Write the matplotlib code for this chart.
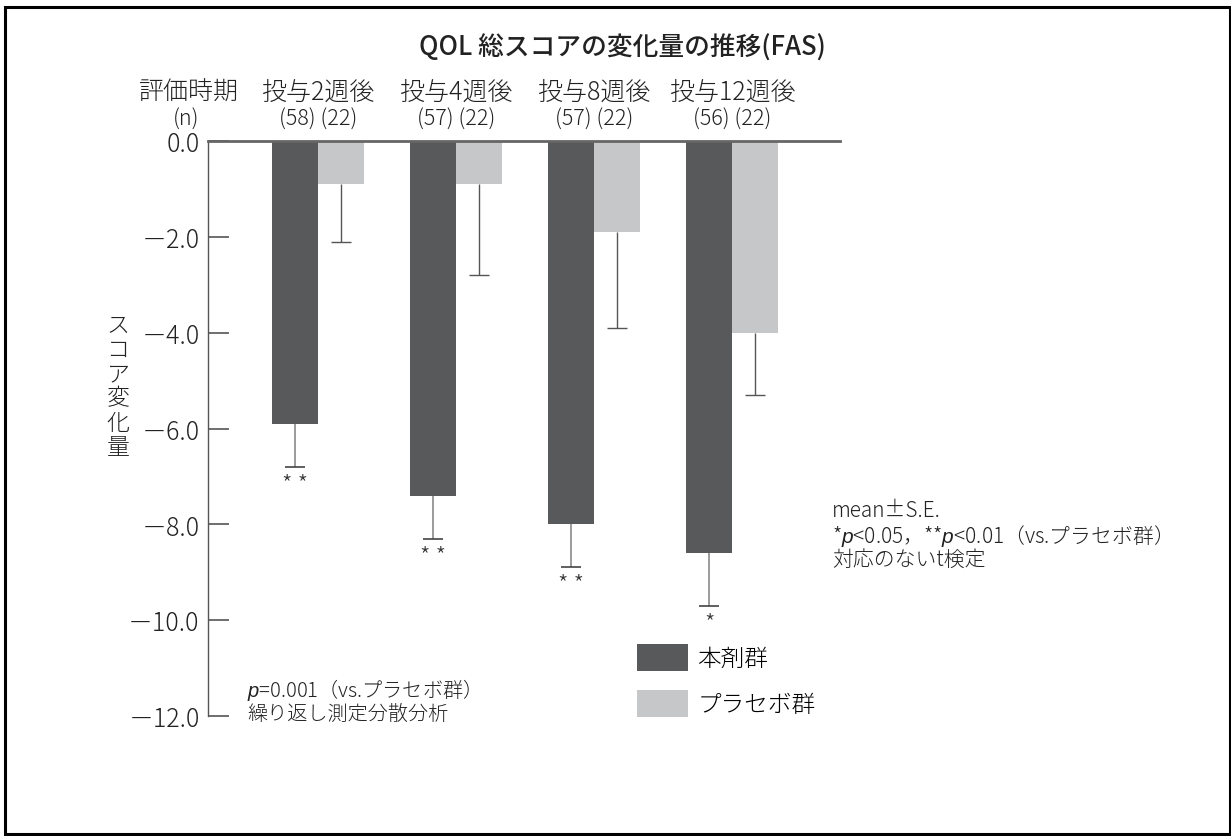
import numpy as np
import matplotlib
matplotlib.use("Agg")
import matplotlib.pyplot as plt
import matplotlib.transforms as mtransforms
from matplotlib.patches import Rectangle, Patch

plt.rcParams['font.family'] = ['Noto Sans CJK JP', 'DejaVu Sans']
plt.rcParams['font.weight'] = 'light'
plt.rcParams['mathtext.fontset'] = 'custom'
plt.rcParams['mathtext.it'] = 'Liberation Sans:italic'
plt.rcParams['mathtext.rm'] = 'Liberation Sans'

# data
weeks = ['投与2週後', '投与4週後', '投与8週後', '投与12週後']
n_labels = ['(58) (22)', '(57) (22)', '(57) (22)', '(56) (22)']
drug = [-5.9, -7.4, -8.0, -8.6]
drug_se = [0.9, 0.9, 0.9, 1.1]
placebo = [-0.9, -0.9, -1.9, -4.0]
placebo_se = [1.2, 1.9, 2.0, 1.3]
stars = ['* *', '* *', '* *', '*']
yticks = [0, -2, -4, -6, -8, -10, -12]
ytick_labels = ['0.0', '－2.0', '－4.0', '－6.0', '－8.0', '－10.0', '－12.0']

c_drug = '#58595b'
c_plac = '#c6c7c9'
txt = '#222222'

W, H = 1231, 837
fig = plt.figure(figsize=(W / 100, H / 100), dpi=100)
ax = fig.add_axes([208 / W, 1 - 717 / H, (840 - 208) / W, (717 - 142) / H])

x = np.arange(len(weeks))
bw = 0.333
ax.bar(x - bw / 2, drug, width=bw, color=c_drug, zorder=2)
ax.bar(x + bw / 2, placebo, width=bw, color=c_plac, zorder=2)

# error bars (lower side only)
d_low = np.array(drug) - np.array(drug_se)
p_low = np.array(placebo) - np.array(placebo_se)
cap = 0.072
ax.vlines(x - bw / 2, d_low, drug, color='#8a8a8a', lw=1.2, zorder=1)
ax.hlines(d_low, x - bw / 2 - cap, x - bw / 2 + cap, color='#444444', lw=1.2)
ax.vlines(x + bw / 2, p_low, placebo, color='#555555', lw=1.0, zorder=1)
ax.hlines(p_low, x + bw / 2 - cap, x + bw / 2 + cap, color='#555555', lw=1.0)

for xi, lo, s in zip(x, d_low, stars):
    ax.text(xi - bw / 2, lo - 0.1, s, ha='center', va='top', fontsize=17, color='#333333')

ax.set_xlim(-0.797, 3.78)
ax.set_ylim(-12, 0)
ax.set_xticks([])
ax.set_yticks(yticks)
ax.set_yticklabels(ytick_labels, fontsize=18, color=txt)
ax.tick_params(axis='y', direction='in', length=15, width=1.2, color='#555555', pad=6)
for s in ['bottom', 'right']:
    ax.spines[s].set_visible(False)
ax.spines['left'].set_color('#555555')
ax.spines['left'].set_linewidth(1.0)
ax.spines['top'].set_color('#666666')
ax.spines['top'].set_linewidth(2.0)

# header rows
tr = mtransforms.blended_transform_factory(ax.transData, fig.transFigure)
for xi, w, n in zip(x, weeks, n_labels):
    ax.text(xi, 1 - 92 / H, w, transform=tr, ha='center', va='center', fontsize=18, color=txt)
    ax.text(xi, 1 - 120 / H, n, transform=tr, ha='center', va='center', fontsize=15.5, color=txt)
fig.text(189 / W, 1 - 92 / H, '評価時期', ha='center', va='center', fontsize=18, color=txt)
fig.text(186 / W, 1 - 120 / H, '(n)', ha='center', va='center', fontsize=15.5, color=txt)

fig.text(622 / W, 1 - 48 / H, 'QOL 総スコアの変化量の推移(FAS)', ha='center', va='center',
         fontsize=18.5, fontweight='medium', color=txt)

fig.text(118 / W, 1 - 387 / H, '\n'.join('スコア変化量'), ha='center', va='center',
         fontsize=16.5, linespacing=0.95, color=txt)

fig.text(247 / W, 1 - 690 / H, r'$\it{p}$=0.001（vs.プラセボ群）', ha='left', va='center',
         fontsize=14.5, color=txt)
fig.text(247 / W, 1 - 714 / H, '繰り返し測定分散分析', ha='left', va='center', fontsize=14.5, color=txt)

fig.text(832 / W, 1 - 511 / H, 'mean±S.E.', ha='left', va='center', fontsize=15, color=txt)
fig.text(832 / W, 1 - 536 / H, r'*$\it{p}$<0.05，**$\it{p}$<0.01（vs.プラセボ群）', ha='left', va='center',
         fontsize=15, color=txt)
fig.text(832 / W, 1 - 560 / H, '対応のないt検定', ha='left', va='center', fontsize=15, color=txt)

handles = [Patch(facecolor=c_drug), Patch(facecolor=c_plac)]
fig.legend(handles, ['本剤群', 'プラセボ群'], loc='upper left',
           bbox_to_anchor=(637 / W, 1 - 645 / H), frameon=False, fontsize=17,
           handlelength=2.15, handleheight=1.35, labelspacing=0.8,
           handletextpad=0.4, borderpad=0, borderaxespad=0)

fig.patches.append(Rectangle((4.5 / W, 2.5 / H), (1229.5 - 4.5) / W, (832 - 5.5) / H,
                             transform=fig.transFigure, fill=False, edgecolor='black', lw=2.2))

fig.savefig('out.png', dpi=100)
